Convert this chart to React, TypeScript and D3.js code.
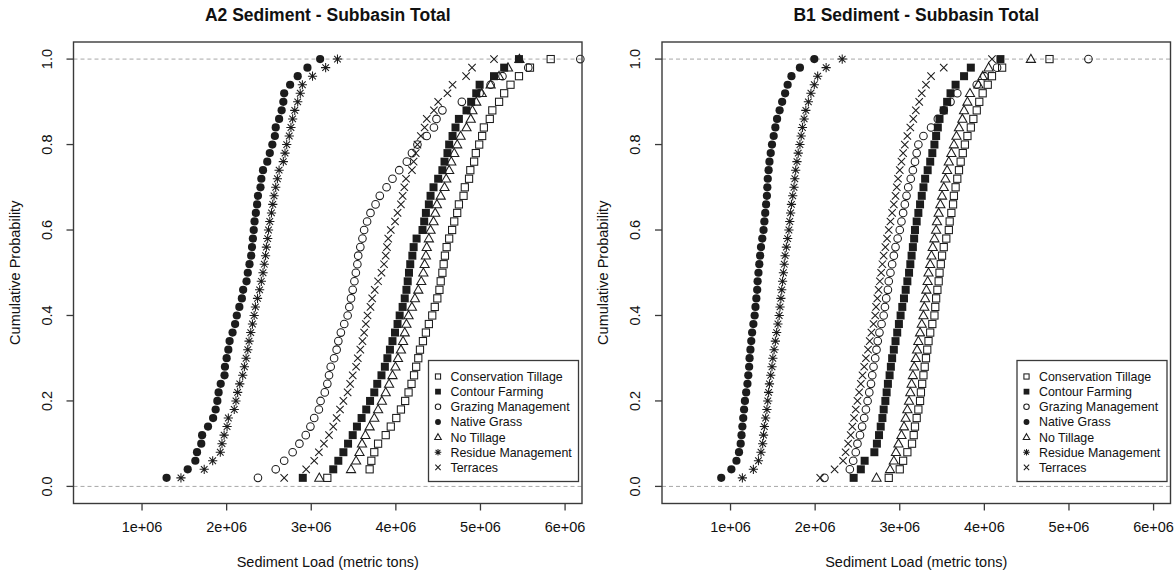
import React from "react";
import * as d3 from "d3";

// Sediment loads are listed in millions of metric tons, sorted ascending.
const UNIT = 1e6;

// Empirical cumulative probability of each sorted run (50 runs per scenario).
const PROB = [
  0.02, 0.04, 0.06, 0.08, 0.1, 0.12, 0.14, 0.16, 0.18, 0.2,
  0.22, 0.24, 0.26, 0.28, 0.3, 0.32, 0.34, 0.36, 0.38, 0.4,
  0.42, 0.44, 0.46, 0.48, 0.5, 0.52, 0.54, 0.56, 0.58, 0.6,
  0.62, 0.64, 0.66, 0.68, 0.7, 0.72, 0.74, 0.76, 0.78, 0.8,
  0.82, 0.84, 0.86, 0.88, 0.9, 0.92, 0.94, 0.96, 0.98, 1.0,
];

const SCENARIOS = [
  "Conservation Tillage",
  "Contour Farming",
  "Grazing Management",
  "Native Grass",
  "No Tillage",
  "Residue Management",
  "Terraces",
];

const X_TICKS = [1e6, 2e6, 3e6, 4e6, 5e6, 6e6];
const X_TICK_LABELS = ["1e+06", "2e+06", "3e+06", "4e+06", "5e+06", "6e+06"];
const Y_TICKS = [0, 0.2, 0.4, 0.6, 0.8, 1.0];
const Y_TICK_LABELS = ["0.0", "0.2", "0.4", "0.6", "0.8", "1.0"];

// ---- A2 ----
const a2ConservationTillage = [
  3.19, 3.69, 3.71, 3.745, 3.79, 3.88, 3.94, 4.005, 4.06, 4.11,
  4.15, 4.185, 4.215, 4.24, 4.265, 4.285, 4.32, 4.355, 4.39, 4.43,
  4.46, 4.49, 4.515, 4.53, 4.55, 4.565, 4.58, 4.6, 4.63, 4.665,
  4.69, 4.725, 4.745, 4.8, 4.815, 4.865, 4.88, 4.925, 4.945, 4.985,
  5.02, 5.04, 5.11, 5.14, 5.22, 5.28, 5.355, 5.455, 5.585, 5.83,
];
const a2ContourFarming = [
  2.9, 3.26, 3.32, 3.38, 3.435, 3.49, 3.54, 3.595, 3.65, 3.695,
  3.745, 3.78, 3.83, 3.87, 3.9, 3.93, 3.96, 3.99, 4.02, 4.045,
  4.08, 4.105, 4.125, 4.14, 4.155, 4.17, 4.195, 4.21, 4.245, 4.315,
  4.335, 4.355, 4.39, 4.41, 4.445, 4.5, 4.55, 4.575, 4.61, 4.63,
  4.67, 4.705, 4.745, 4.835, 4.89, 4.95, 4.99, 5.16, 5.28, 5.455,
];
const a2GrazingManagement = [
  2.37, 2.58, 2.68, 2.78, 2.86, 2.935, 2.99, 3.035, 3.09, 3.11,
  3.16, 3.19, 3.21, 3.23, 3.27, 3.3, 3.32, 3.35, 3.39, 3.43,
  3.45, 3.47, 3.49, 3.51, 3.527, 3.545, 3.555, 3.58, 3.605, 3.625,
  3.66, 3.7, 3.76, 3.81, 3.89, 3.96, 4.04, 4.13, 4.19, 4.255,
  4.365, 4.45, 4.48, 4.55, 4.78, 4.99, 5.12, 5.26, 5.565, 6.18,
];
const a2NativeGrass = [
  1.29, 1.54, 1.63, 1.65, 1.7, 1.71, 1.78, 1.84, 1.87, 1.89,
  1.905, 1.93, 1.975, 1.98, 2.0, 2.02, 2.035, 2.07, 2.1, 2.12,
  2.15, 2.18, 2.195, 2.235, 2.25, 2.27, 2.29, 2.3, 2.31, 2.32,
  2.33, 2.345, 2.36, 2.37, 2.4, 2.41, 2.43, 2.48, 2.51, 2.54,
  2.57, 2.58, 2.62, 2.65, 2.67, 2.68, 2.75, 2.84, 2.955, 3.105,
];
const a2NoTillage = [
  3.095, 3.47, 3.53, 3.57, 3.6, 3.64, 3.69, 3.745, 3.79, 3.835,
  3.88, 3.92, 3.96, 3.995, 4.025, 4.06, 4.085, 4.105, 4.125, 4.15,
  4.19, 4.225, 4.265, 4.3, 4.325, 4.34, 4.355, 4.365, 4.39, 4.41,
  4.445, 4.465, 4.485, 4.53, 4.575, 4.595, 4.63, 4.655, 4.69, 4.725,
  4.765, 4.835, 4.885, 4.905, 4.95, 5.015, 5.12, 5.22, 5.325, 5.46,
];
const a2ResidueManagement = [
  1.46, 1.735, 1.835, 1.925, 1.945, 1.97, 2.005, 2.02, 2.09, 2.11,
  2.13, 2.155, 2.19, 2.21, 2.23, 2.25, 2.265, 2.285, 2.305, 2.325,
  2.34, 2.365, 2.39, 2.41, 2.43, 2.445, 2.46, 2.47, 2.485, 2.495,
  2.51, 2.53, 2.545, 2.56, 2.58, 2.6, 2.62, 2.67, 2.69, 2.71,
  2.74, 2.76, 2.78, 2.805, 2.84, 2.87, 2.895, 3.015, 3.17, 3.31,
];
const a2Terraces = [
  2.68, 2.94, 3.035, 3.09, 3.15, 3.21, 3.26, 3.3, 3.34, 3.38,
  3.43, 3.46, 3.49, 3.53, 3.55, 3.58, 3.605, 3.625, 3.645, 3.665,
  3.7, 3.72, 3.75, 3.79, 3.83, 3.86, 3.88, 3.895, 3.91, 3.94,
  3.99, 4.02, 4.06, 4.08, 4.1, 4.12, 4.19, 4.21, 4.235, 4.255,
  4.295, 4.34, 4.365, 4.45, 4.5, 4.61, 4.67, 4.83, 4.9, 5.16,
];

// ---- B1 ----
const b1ConservationTillage = [
  2.87, 3.0, 3.04, 3.09, 3.145, 3.165, 3.18, 3.2, 3.22, 3.24,
  3.25, 3.265, 3.28, 3.295, 3.31, 3.325, 3.34, 3.36, 3.385, 3.41,
  3.42, 3.43, 3.445, 3.46, 3.47, 3.485, 3.5, 3.52, 3.55, 3.58,
  3.59, 3.61, 3.63, 3.64, 3.66, 3.68, 3.7, 3.72, 3.745, 3.77,
  3.8, 3.84, 3.87, 3.91, 3.94, 3.98, 4.04, 4.09, 4.21, 4.77,
];
const b1ContourFarming = [
  2.455, 2.54, 2.585, 2.7, 2.73, 2.755, 2.775, 2.795, 2.81, 2.83,
  2.845, 2.86, 2.88, 2.895, 2.91, 2.93, 2.95, 2.97, 2.99, 3.01,
  3.03, 3.05, 3.07, 3.09, 3.11, 3.125, 3.14, 3.155, 3.17, 3.18,
  3.2, 3.22, 3.24, 3.26, 3.28, 3.3, 3.33, 3.36, 3.385, 3.41,
  3.43, 3.45, 3.47, 3.52, 3.56, 3.6, 3.66, 3.76, 3.84, 4.19,
];
const b1GrazingManagement = [
  2.11, 2.41, 2.45, 2.48, 2.5, 2.53, 2.555, 2.58, 2.6, 2.62,
  2.64, 2.66, 2.675, 2.69, 2.71, 2.725, 2.74, 2.76, 2.785, 2.81,
  2.825, 2.84, 2.86, 2.87, 2.89, 2.91, 2.93, 2.95, 2.975, 3.0,
  3.02, 3.04, 3.06, 3.08, 3.1, 3.13, 3.155, 3.18, 3.2, 3.22,
  3.28, 3.37, 3.45, 3.52, 3.6, 3.68, 3.91, 4.0, 4.15, 5.23,
];
const b1NativeGrass = [
  0.89, 1.01, 1.07, 1.1, 1.12, 1.13, 1.14, 1.15, 1.16, 1.17,
  1.185, 1.2, 1.21, 1.22, 1.225, 1.235, 1.245, 1.255, 1.27, 1.285,
  1.295, 1.305, 1.315, 1.32, 1.33, 1.34, 1.35, 1.36, 1.375, 1.39,
  1.4, 1.41, 1.42, 1.43, 1.435, 1.44, 1.45, 1.46, 1.475, 1.49,
  1.51, 1.53, 1.55, 1.58, 1.61, 1.645, 1.675, 1.72, 1.82, 1.99,
];
const b1NoTillage = [
  2.725, 2.885, 2.93, 2.955, 2.985, 3.02, 3.05, 3.07, 3.09, 3.11,
  3.125, 3.14, 3.155, 3.17, 3.19, 3.205, 3.22, 3.24, 3.26, 3.28,
  3.29, 3.3, 3.315, 3.33, 3.34, 3.36, 3.375, 3.39, 3.41, 3.43,
  3.44, 3.46, 3.48, 3.5, 3.52, 3.54, 3.56, 3.58, 3.61, 3.64,
  3.67, 3.7, 3.74, 3.76, 3.8, 3.83, 3.93, 3.98, 4.05, 4.55,
];
const b1ResidueManagement = [
  1.14, 1.27, 1.33, 1.36, 1.38, 1.39, 1.4, 1.415, 1.43, 1.44,
  1.45, 1.46, 1.475, 1.49, 1.5, 1.515, 1.53, 1.545, 1.56, 1.575,
  1.585, 1.595, 1.605, 1.615, 1.625, 1.635, 1.645, 1.66, 1.675, 1.69,
  1.7, 1.71, 1.72, 1.735, 1.75, 1.76, 1.77, 1.785, 1.8, 1.82,
  1.835, 1.85, 1.87, 1.89, 1.92, 1.95, 1.99, 2.03, 2.13, 2.32,
];
const b1Terraces = [
  2.06, 2.23, 2.33, 2.36, 2.39, 2.42, 2.44, 2.46, 2.48, 2.5,
  2.52, 2.54, 2.56, 2.58, 2.6, 2.625, 2.645, 2.665, 2.69, 2.71,
  2.72, 2.735, 2.75, 2.765, 2.78, 2.795, 2.81, 2.83, 2.85, 2.87,
  2.89, 2.91, 2.93, 2.95, 2.965, 2.98, 3.0, 3.02, 3.04, 3.06,
  3.09, 3.125, 3.16, 3.19, 3.23, 3.26, 3.31, 3.37, 3.52, 4.09,
];

type Shape = "sqOpen" | "sqFilled" | "circOpen" | "circFilled" | "tri" | "star" | "cross";
const SHAPES: Shape[] = ["sqOpen", "sqFilled", "circOpen", "circFilled", "tri", "star", "cross"];

const PANELS = [
  {
    title: "A2 Sediment - Subbasin Total",
    left: 73.5,
    right: 582,
    series: [a2ConservationTillage, a2ContourFarming, a2GrazingManagement, a2NativeGrass, a2NoTillage, a2ResidueManagement, a2Terraces],
  },
  {
    title: "B1 Sediment - Subbasin Total",
    left: 662,
    right: 1170.5,
    series: [b1ConservationTillage, b1ContourFarming, b1GrazingManagement, b1NativeGrass, b1NoTillage, b1ResidueManagement, b1Terraces],
  },
];

const TOP = 42;
const BOTTOM = 503.5;
const X_DOMAIN = [0.19e6, 6.2e6];
const Y_DOMAIN = [-0.04, 1.04];
const FONT = "'Liberation Sans', Arial, Helvetica, sans-serif";
const INK = "#1c1c1c";

function Marker({ shape, x, y, s = 1 }: { shape: Shape; x: number; y: number; s?: number }) {
  const sw = 1.05;
  switch (shape) {
    case "sqOpen": {
      const h = 3.6 * s;
      return <rect x={x - h} y={y - h} width={2 * h} height={2 * h} fill="none" stroke={INK} strokeWidth={sw} />;
    }
    case "sqFilled": {
      const h = 4 * s;
      return <rect x={x - h} y={y - h} width={2 * h} height={2 * h} fill={INK} />;
    }
    case "circOpen":
      return <circle cx={x} cy={y} r={3.8 * s} fill="none" stroke={INK} strokeWidth={sw} />;
    case "circFilled":
      return <circle cx={x} cy={y} r={4.1 * s} fill={INK} />;
    case "tri": {
      const w = 4.6 * s;
      const pts = [
        [x, y - 4.8 * s],
        [x + w, y + 3.3 * s],
        [x - w, y + 3.3 * s],
      ];
      return <polygon points={pts.map((p) => p.join(",")).join(" ")} fill="none" stroke={INK} strokeWidth={sw} />;
    }
    case "star": {
      const r = 4.6 * s;
      const d = 3.3 * s;
      return (
        <path
          d={`M${x - r},${y}H${x + r}M${x},${y - r}V${y + r}M${x - d},${y - d}L${x + d},${y + d}M${x - d},${y + d}L${x + d},${y - d}`}
          stroke={INK}
          strokeWidth={sw}
          fill="none"
        />
      );
    }
    case "cross": {
      const d = 3.7 * s;
      return (
        <path
          d={`M${x - d},${y - d}L${x + d},${y + d}M${x - d},${y + d}L${x + d},${y - d}`}
          stroke={INK}
          strokeWidth={sw}
          fill="none"
        />
      );
    }
  }
  return null;
}

function Panel({ panel }: { panel: (typeof PANELS)[number] }) {
  const x = d3.scaleLinear().domain(X_DOMAIN).range([panel.left, panel.right]);
  const y = d3.scaleLinear().domain(Y_DOMAIN).range([BOTTOM, TOP]);
  const cx = (panel.left + panel.right) / 2;
  const cy = (TOP + BOTTOM) / 2;
  const legW = 150;
  const legH = 121;
  const legX = panel.right - 3.5 - legW;
  const legY = 360.5;
  const rowStep = 15.15;

  return (
    <g>
      <text x={cx} y={20.5} textAnchor="middle" fontWeight="bold" fontSize={17.5} fill="#111">
        {panel.title}
      </text>

      {/* reference lines at probability 0 and 1 */}
      {[0, 1].map((v) => (
        <line
          key={v}
          x1={panel.left}
          x2={panel.right}
          y1={y(v)}
          y2={y(v)}
          stroke="#a8a8a8"
          strokeWidth={1}
          strokeDasharray="4,3"
        />
      ))}

      {/* points */}
      {panel.series.map((vals, si) =>
        vals.map((v, i) => (
          <Marker key={`${si}-${i}`} shape={SHAPES[si]} x={x(v * UNIT)} y={y(PROB[i])} />
        ))
      )}

      {/* frame */}
      <rect
        x={panel.left}
        y={TOP}
        width={panel.right - panel.left}
        height={BOTTOM - TOP}
        fill="none"
        stroke="#3a3a3a"
        strokeWidth={1.4}
      />

      {/* x axis */}
      {X_TICKS.map((t, i) => (
        <g key={t}>
          <line x1={x(t)} x2={x(t)} y1={BOTTOM} y2={BOTTOM + 7} stroke="#3a3a3a" strokeWidth={1.3} />
          <text x={x(t)} y={532} textAnchor="middle" fontSize={14.5} fill="#111">
            {X_TICK_LABELS[i]}
          </text>
        </g>
      ))}
      <text x={cx} y={567} textAnchor="middle" fontSize={14.5} fill="#111">
        Sediment Load (metric tons)
      </text>

      {/* y axis */}
      {Y_TICKS.map((t, i) => (
        <g key={t}>
          <line x1={panel.left - 7} x2={panel.left} y1={y(t)} y2={y(t)} stroke="#3a3a3a" strokeWidth={1.3} />
          <text
            transform={`translate(${panel.left - 22},${y(t)}) rotate(-90)`}
            textAnchor="middle"
            fontSize={14.5}
            fill="#111"
          >
            {Y_TICK_LABELS[i]}
          </text>
        </g>
      ))}
      <text
        transform={`translate(${panel.left - 54},${cy}) rotate(-90)`}
        textAnchor="middle"
        fontSize={14.5}
        fill="#111"
      >
        Cumulative Probability
      </text>

      {/* legend */}
      <rect x={legX} y={legY} width={legW} height={legH} fill="#fff" stroke="#3a3a3a" strokeWidth={1.3} />
      {SCENARIOS.map((name, i) => {
        const ry = legY + 16 + i * rowStep;
        return (
          <g key={name}>
            <Marker shape={SHAPES[i]} x={legX + 9.5} y={ry} s={0.72} />
            <text x={legX + 22} y={ry + 4.5} fontSize={12.4} fill="#111">
              {name}
            </text>
          </g>
        );
      })}
    </g>
  );
}

export default function App() {
  return (
    <svg
      width={1175}
      height={575}
      style={{ position: "absolute", left: 0, top: 0, background: "#fff" }}
      fontFamily={FONT}
    >
      <rect width={1175} height={575} fill="#fff" />
      {PANELS.map((p) => (
        <Panel key={p.title} panel={p} />
      ))}
    </svg>
  );
}
